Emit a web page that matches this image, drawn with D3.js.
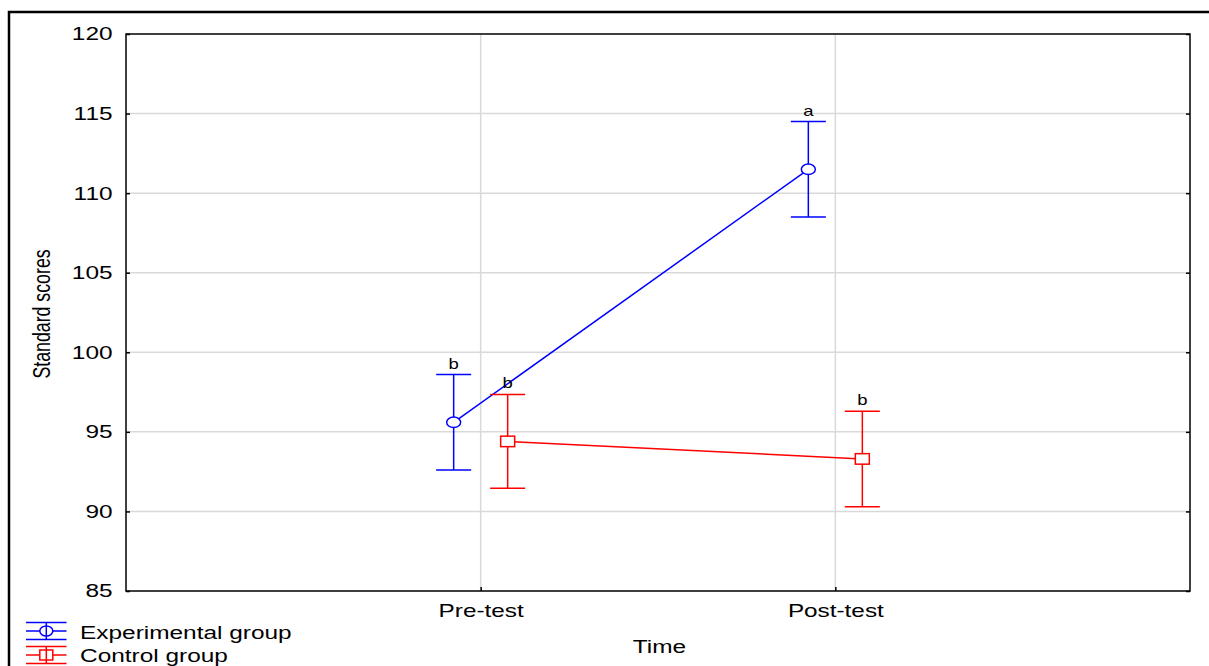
<!DOCTYPE html>
<html>
<head>
<meta charset="utf-8">
<script src="https://cdn.jsdelivr.net/npm/d3@7/dist/d3.min.js"></script>
<style>
  html, body { margin: 0; padding: 0; background: #fff; }
  svg { display: block; font-family: "Liberation Sans", Arial, sans-serif; }
</style>
</head>
<body>
<svg id="chart" width="1209" height="666"></svg>
<script>
// Time points and group labels
const timePoints = ["Pre-test", "Post-test"];
const groups = ["Experimental group", "Control group"];
const groupColors = ["#0000ff", "#ff0000"];

// Group means and error half-widths at each time point
const experimentalMeans = [95.6, 111.5];
const experimentalErrors = [3.0, 3.0];
const controlMeans = [94.4, 93.3];
const controlErrors = [2.95, 3.0];

// Significance letters above each bar
const experimentalLetters = ["b", "a"];
const controlLetters = ["b", "b"];

const yTicks = [85, 90, 95, 100, 105, 110, 115, 120];

// Text is drawn wide (horizontal stretch) in this figure style
const WIDE = 1.32;
const FONT = 18.5;

const svg = d3.select("#chart");
const plot = { left: 126, top: 34, right: 1190, bottom: 591 };

const y = d3.scaleLinear().domain([85, 120]).range([plot.bottom, plot.top]);
const x = d3.scalePoint().domain(["", ...timePoints, " "]).range([plot.left, plot.right]);
const groupOffset = d3.scalePoint().domain(groups).range([-27, 27]);

function wideText(parent, px, py, str, size, anchor) {
  return parent.append("text")
    .attr("transform", `translate(${px},${py}) scale(${WIDE},1)`)
    .attr("text-anchor", anchor || "start")
    .attr("font-size", size).attr("fill", "#000").text(str);
}

// Outer frame
svg.append("path")
  .attr("d", `M9,666 L9,12 L1209,12`)
  .attr("fill", "none").attr("stroke", "#000").attr("stroke-width", 2.5);

// Grid lines
const grid = svg.append("g").attr("stroke", "#d9d9d9").attr("stroke-width", 1.5);
grid.selectAll("line.h").data(yTicks.slice(1, -1)).join("line")
  .attr("x1", plot.left).attr("x2", plot.right)
  .attr("y1", d => y(d)).attr("y2", d => y(d));
grid.selectAll("line.v").data(timePoints).join("line")
  .attr("x1", d => x(d)).attr("x2", d => x(d))
  .attr("y1", plot.top).attr("y2", plot.bottom);

// Left axis: labels with inward ticks
const yAxis = svg.append("g").attr("transform", `translate(${plot.left},0)`)
  .call(d3.axisLeft(y).tickValues(yTicks).tickSize(-4).tickPadding(10.2));
yAxis.select(".domain").remove();
yAxis.selectAll("text")
  .attr("font-size", FONT).attr("fill", "#000")
  .attr("font-family", "Liberation Sans, Arial, sans-serif")
  .attr("transform", `scale(${WIDE},1)`);
yAxis.selectAll("line").attr("stroke", "#000").attr("stroke-width", 1.5);

// Right axis: inward ticks only
const yAxisR = svg.append("g").attr("transform", `translate(${plot.right},0)`)
  .call(d3.axisRight(y).tickValues(yTicks).tickSize(-4).tickFormat(""));
yAxisR.select(".domain").remove();
yAxisR.selectAll("line").attr("stroke", "#000").attr("stroke-width", 1.5);

// Bottom axis
const xAxis = svg.append("g").attr("transform", `translate(0,${plot.bottom})`)
  .call(d3.axisBottom(x).tickValues(timePoints).tickSize(-4).tickPadding(12.5));
xAxis.select(".domain").remove();
xAxis.selectAll("text")
  .attr("font-size", 19).attr("fill", "#000")
  .attr("font-family", "Liberation Sans, Arial, sans-serif")
  .attr("transform", `scale(1.28,1)`);
xAxis.selectAll("line").attr("stroke", "#000").attr("stroke-width", 1.5);

// Plot border
svg.append("rect")
  .attr("x", plot.left).attr("y", plot.top)
  .attr("width", plot.right - plot.left).attr("height", plot.bottom - plot.top)
  .attr("fill", "none").attr("stroke", "#000").attr("stroke-width", 1.5);

// Axis titles
svg.append("text")
  .attr("transform", `translate(49.5,314) rotate(-90) scale(0.96,1.3)`)
  .attr("text-anchor", "middle").attr("font-size", FONT).text("Standard scores");
wideText(svg, (plot.left + plot.right) / 2 + 1.5, 653, "Time", FONT, "middle");

// Series
const series = [
  { name: groups[0], means: experimentalMeans, errs: experimentalErrors, letters: experimentalLetters, color: groupColors[0], marker: "circle" },
  { name: groups[1], means: controlMeans, errs: controlErrors, letters: controlLetters, color: groupColors[1], marker: "square" }
];

const capHalf = 17.5;

function drawMarker(g, kind, cx, cy, color, w, h) {
  if (kind === "circle") {
    g.append("ellipse").attr("cx", cx).attr("cy", cy).attr("rx", w / 2).attr("ry", h / 2)
      .attr("fill", "#fff").attr("stroke", color).attr("stroke-width", 1.5);
  } else {
    g.append("rect").attr("x", cx - w / 2).attr("y", cy - h / 2).attr("width", w).attr("height", h)
      .attr("fill", "#fff").attr("stroke", color).attr("stroke-width", 1.5);
  }
}

series.forEach(s => {
  const g = svg.append("g");
  const px = t => x(t) + groupOffset(s.name);
  const pts = timePoints.map((t, i) => ({ t, m: s.means[i], e: s.errs[i], l: s.letters[i] }));

  g.append("path")
    .attr("d", d3.line().x(d => px(d.t)).y(d => y(d.m))(pts))
    .attr("fill", "none").attr("stroke", s.color).attr("stroke-width", 1.5);

  pts.forEach(d => {
    const cx = px(d.t);
    const top = y(d.m + d.e), bot = y(d.m - d.e);
    g.append("line").attr("x1", cx).attr("x2", cx).attr("y1", top).attr("y2", bot)
      .attr("stroke", s.color).attr("stroke-width", 1.5);
    [top, bot].forEach(yy => g.append("line")
      .attr("x1", cx - capHalf).attr("x2", cx + capHalf).attr("y1", yy).attr("y2", yy)
      .attr("stroke", s.color).attr("stroke-width", 1.5));
    drawMarker(g, s.marker, cx, y(d.m), s.color, 14, 10.5);
    wideText(g, cx, top - 6, d.l, 14, "middle");
  });
});

// Legend
const legend = svg.append("g");
series.forEach((s, i) => {
  const cy = 631 + i * 24;
  const lg = legend.append("g");
  [-8.5, 0, 8.5].forEach(dy => lg.append("line")
    .attr("x1", 26).attr("x2", 66.5).attr("y1", cy + dy).attr("y2", cy + dy)
    .attr("stroke", s.color).attr("stroke-width", 1.5));
  drawMarker(lg, s.marker, 46.3, cy, s.color, 13, 10);
  lg.append("line").attr("x1", 46.3).attr("x2", 46.3).attr("y1", cy - 8.5).attr("y2", cy + 8.5)
    .attr("stroke", s.color).attr("stroke-width", 1.5);
  wideText(lg, 80, cy + 7.5 - i * 0.5, s.name, FONT, "start");
});
</script>
</body>
</html>
